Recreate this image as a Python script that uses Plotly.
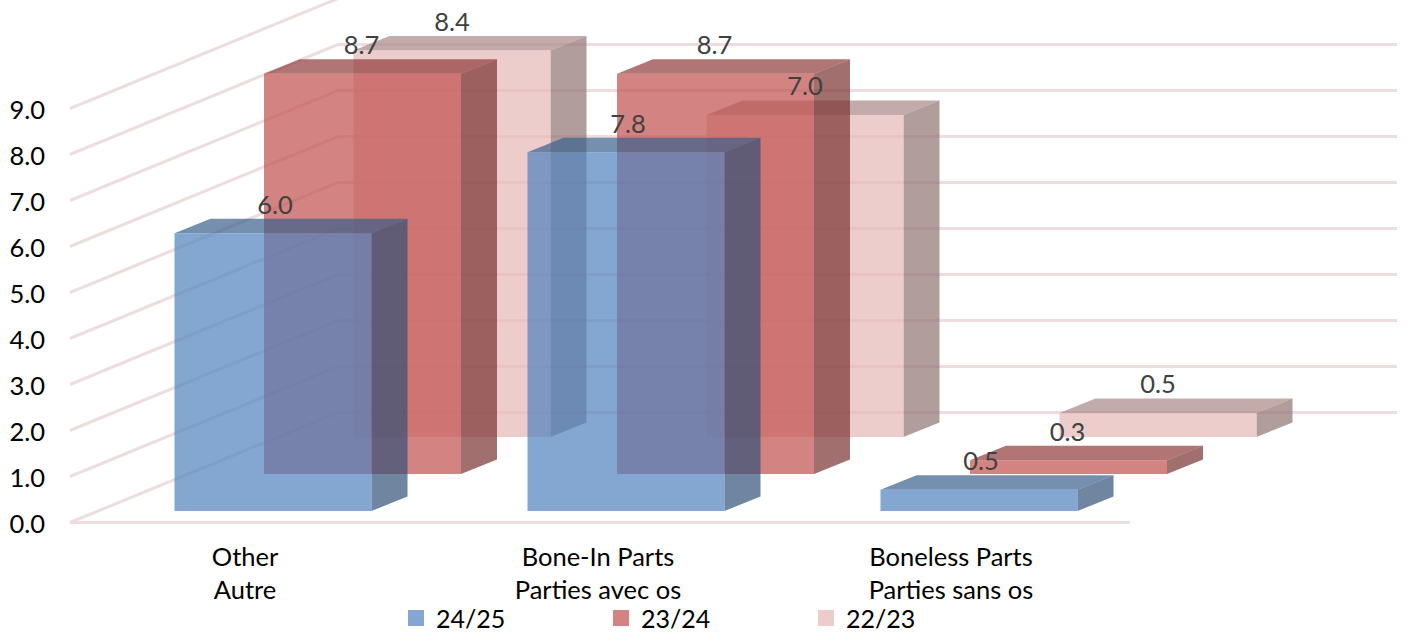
import plotly.graph_objects as go

categories = ["Other<br>Autre", "Bone-In Parts<br>Parties avec os", "Boneless Parts<br>Parties sans os"]
series_names = ["24/25", "23/24", "22/23"]
values_2425 = [6.04, 7.8, 0.46]
values_2324 = [8.7, 8.7, 0.3]
values_2223 = [8.4, 7.0, 0.52]
y_ticks = [0, 1, 2, 3, 4, 5, 6, 7, 8, 9]

W, H = 1408, 632
PX_X = 353.0   # pixels per category
PX_Y = 46.0    # pixels per value unit
X0_PX, Y0_PX = 245.0, 522.5
L, B = 60, 632 - 530
px = lambda p: p / PX_X
py = lambda p: p / PX_Y

FONT = "Lato, Carlito, sans-serif"
FS = 25.5
GRID = "#efdddd"

rows = [  # back to front: values, rgb, row index
    (values_2223, (230, 184, 183), 2, series_names[2]),
    (values_2324, (192, 80, 77), 1, series_names[1]),
    (values_2425, (79, 129, 189), 0, series_names[0]),
]
LABEL_SHIFT = {0: 2, 1: -1, 2: 0}
ALPHA = 0.7
SIDE, TOP = 0.63, 0.74
HALF = px(98.5)
DX, DY = px(36), py(14.5)

def rgba(c, f=1.0):
    return f"rgba({c[0]*f:.0f},{c[1]*f:.0f},{c[2]*f:.0f},{ALPHA})"

fig = go.Figure()

# walls: gridlines in projection
WX0, WX1, WX2 = px(70 - X0_PX), px(338 - X0_PX), px(1397 - X0_PX)
WD = py(110)
gx, gy = [], []
for t in y_ticks:
    gx += [WX0, WX1, WX2, None]
    gy += [t, t + WD, t + WD, None]
gx += [WX0, px(1130 - X0_PX)]
gy += [0, 0]
fig.add_trace(go.Scatter(x=gx, y=gy, mode="lines", line=dict(color=GRID, width=3),
                         hoverinfo="skip", showlegend=False))

lab_x, lab_y, lab_t = [], [], []
for vals, col, r, name in rows:
    off_x = px(28 + 89.5 * r)
    base = py(11.5 + 37 * r)
    fx, fy, sx, sy, tx, ty = [], [], [], [], [], []
    for i, v in enumerate(vals):
        c = i + off_x
        a, b = c - HALF, c + HALF
        top = base + v
        fx += [a, b, b, a, a, None]
        fy += [base, base, top, top, base, None]
        sx += [b, b + DX, b + DX, b, b, None]
        sy += [base, base + DY, top + DY, top, base, None]
        tx += [a, a + DX, b + DX, b, a, None]
        ty += [top, top + DY, top + DY, top, top, None]
        lab_x.append(c + px(LABEL_SHIFT[r]))
        lab_y.append(top + py(26))
        lab_t.append(f"{v:.1f}")
    for xs, ys, f in ((tx, ty, TOP), (sx, sy, SIDE), (fx, fy, 1.0)):
        fig.add_trace(go.Scatter(x=xs, y=ys, mode="lines", fill="toself", fillcolor=rgba(col, f),
                                 line=dict(width=0), hoverinfo="skip", showlegend=False))

fig.add_trace(go.Scatter(x=lab_x, y=lab_y, text=lab_t, mode="text", textposition="middle center",
                         textfont=dict(family=FONT, size=FS, color="#404040"),
                         hoverinfo="skip", showlegend=False, cliponaxis=False))

for vals, col, r, name in rows[::-1]:
    fig.add_trace(go.Scatter(x=[None], y=[None], mode="markers", name=name,
                             marker=dict(symbol="square", size=16, color=rgba(col))))

fig.update_layout(
    width=W, height=H, autosize=False,
    margin=dict(l=L, r=0, t=0, b=B, autoexpand=False),
    paper_bgcolor="white", plot_bgcolor="white",
    font=dict(family=FONT, size=FS, color="black"),
    xaxis=dict(range=[px(L - X0_PX), px(W - X0_PX)], tickmode="array", tickvals=[0, 1, 2],
               ticktext=categories, showgrid=False, zeroline=False, showline=False,
               ticks="", tickfont=dict(size=FS), ticklabelstandoff=9, automargin=False),
    yaxis=dict(range=[py(Y0_PX - 530), py(Y0_PX)], tickmode="array", tickvals=y_ticks,
               ticktext=[f"{t:.1f}" for t in y_ticks], showgrid=False, zeroline=False,
               showline=False, ticks="", tickfont=dict(size=FS), ticklabelstandoff=14,
               ticklabelshift=2, automargin=False),
    legend=dict(orientation="h", x=(396 - L) / (W - L), xanchor="left", y=-0.123, yanchor="top",
                entrywidth=160, entrywidthmode="pixels", font=dict(size=25),
                bgcolor="rgba(0,0,0,0)", itemsizing="trace", traceorder="normal"),
)

fig.write_html("out.html", post_script="document.body.style.margin='0';",
               config=dict(displayModeBar=False))
